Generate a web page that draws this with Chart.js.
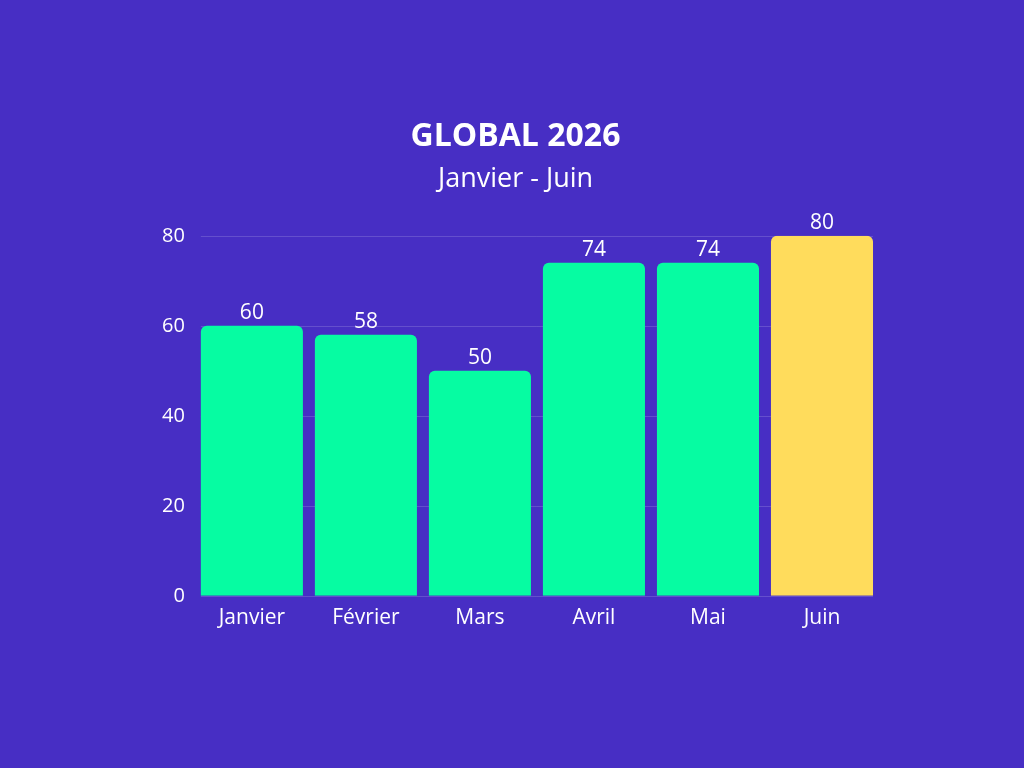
<!DOCTYPE html>
<html><head><meta charset="utf-8">
<script src="https://cdn.jsdelivr.net/npm/chart.js@4/dist/chart.umd.min.js"></script>
<style>html,body{margin:0;padding:0;background:#472ec4;}#wrap{width:1024px;height:768px;}</style>
</head><body><div id="wrap"><canvas id="c" width="1024" height="768"></canvas></div>
<script>
const categories = ['Janvier','Février','Mars','Avril','Mai','Juin'];
const values = [60, 58, 50, 74, 74, 80];
const barColors = ['#06fca2','#06fca2','#06fca2','#06fca2','#06fca2','#ffdc5c'];
const yTicks = [0, 20, 40, 60, 80];
const titleText = 'GLOBAL 2026';
const subtitleText = 'Janvier - Juin';
const FONT = "'Open Sans', sans-serif";

const bgPlugin = {
  id: 'bg',
  beforeDraw(chart) {
    const ctx = chart.ctx;
    ctx.save();
    ctx.fillStyle = '#472ec4';
    ctx.fillRect(0, 0, chart.width, chart.height);
    ctx.restore();
  }
};
const gridPlugin = {
  id: 'gridLines',
  beforeDatasetsDraw(chart) {
    const meta = chart.getDatasetMeta(0);
    const first = meta.data[0], last = meta.data[meta.data.length - 1];
    const x0 = first.x - first.width / 2, x1 = last.x + last.width / 2;
    const ys = chart.scales.y;
    const ctx = chart.ctx;
    ctx.save();
    ctx.strokeStyle = 'rgba(255,255,255,0.16)';
    ctx.lineWidth = 1;
    yTicks.forEach(v => {
      const y = Math.round(ys.getPixelForValue(v)) + 0.5;
      ctx.beginPath(); ctx.moveTo(x0, y); ctx.lineTo(x1, y); ctx.stroke();
    });
    ctx.restore();
  }
};
const labelPlugin = {
  id: 'valueLabels',
  afterDatasetsDraw(chart) {
    const meta = chart.getDatasetMeta(0);
    const ctx = chart.ctx;
    ctx.save();
    ctx.fillStyle = '#ffffff';
    ctx.font = '21px ' + FONT;
    ctx.textAlign = 'center';
    ctx.textBaseline = 'alphabetic';
    meta.data.forEach((bar, i) => {
      ctx.fillText(String(values[i]), bar.x, bar.y - 7);
    });
    ctx.restore();
  }
};

new Chart(document.getElementById('c'), {
  type: 'bar',
  data: {
    labels: categories,
    datasets: [{
      data: values,
      backgroundColor: barColors,
      borderRadius: {topLeft: 6, topRight: 6, bottomLeft: 0, bottomRight: 0},
      borderSkipped: 'bottom',
      categoryPercentage: 1,
      barPercentage: 0.895
    }]
  },
  options: {
    responsive: false,
    animation: false,
    devicePixelRatio: 1,
    layout: { padding: { left: 152, right: 145, top: 100, bottom: 127 } },
    plugins: {
      legend: { display: false },
      tooltip: { enabled: false },
      title: {
        display: true, text: titleText, color: '#ffffff',
        font: { family: FONT, size: 32, weight: 'bold' },
        padding: { top: 18, bottom: 7 }
      },
      subtitle: {
        display: true, text: subtitleText, color: '#ffffff',
        font: { family: FONT, size: 27, weight: 'normal' },
        padding: { top: 0, bottom: 40 }
      }
    },
    scales: {
      x: {
        grid: { display: false, drawTicks: false },
        border: { display: false },
        ticks: { color: '#ffffff', font: { family: FONT, size: 21 }, padding: 10 }
      },
      y: {
        min: 0, max: 80,
        grid: { display: false, drawTicks: false },
        border: { display: false },
        afterBuildTicks(scale) { scale.ticks = yTicks.map(v => ({ value: v })); },
        ticks: { color: '#ffffff', font: { family: FONT, size: 20 }, padding: 10, stepSize: 20 }
      }
    }
  },
  plugins: [bgPlugin, gridPlugin, labelPlugin]
});
</script></body></html>
